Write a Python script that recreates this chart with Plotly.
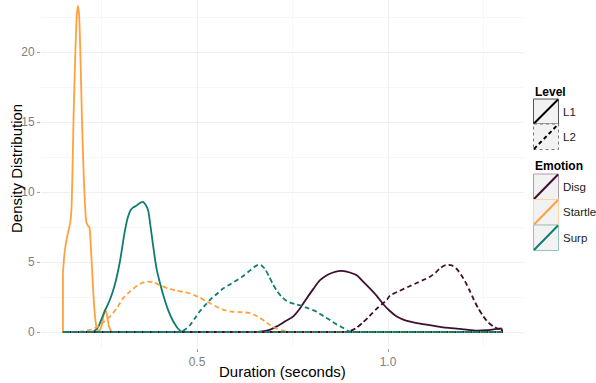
import plotly.graph_objects as go

# ---------------- data ----------------
emotions = ["Disg", "Startle", "Surp"]
levels = ["L1", "L2"]
colors = {"Disg": "#3E1030", "Startle": "#FFA23E", "Surp": "#0F7C71"}
key_borders = {"Disg": "#B49AAA", "Startle": "#FFD3A3", "Surp": "#93C6C0"}

disg_l1_x = [0.149, 0.640, 0.665, 0.690, 0.709, 0.730, 0.751, 0.770, 0.787, 0.805, 0.822, 0.840, 0.856,
             0.870, 0.885, 0.900, 0.918, 0.935, 0.953, 0.970, 0.987, 1.005, 1.023, 1.040, 1.058, 1.080,
             1.101, 1.125, 1.144, 1.165, 1.189, 1.210, 1.232, 1.258, 1.280, 1.298]
disg_l1_y = [0, 0, 0.03, 0.15, 0.4, 0.75, 1.1, 1.7, 2.4, 3.1, 3.7, 4.05, 4.25,
             4.35, 4.35, 4.25, 4.05, 3.6, 3.1, 2.6, 2.0, 1.5, 1.1, 0.88, 0.74, 0.62,
             0.52, 0.42, 0.33, 0.28, 0.22, 0.15, 0.1, 0.13, 0.2, 0.25]

disg_l2_x = [0.149, 0.880, 0.895, 0.915, 0.935, 0.952, 0.970, 0.985, 0.997, 1.005, 1.031, 1.055, 1.075,
             1.095, 1.110, 1.125, 1.136, 1.148, 1.158, 1.168, 1.180, 1.191, 1.202, 1.213, 1.223, 1.236,
             1.250, 1.262, 1.276, 1.287, 1.298]
disg_l2_y = [0, 0, 0.02, 0.25, 0.7, 1.15, 1.65, 2.0, 2.3, 2.6, 2.95, 3.25, 3.5,
             3.75, 3.95, 4.25, 4.55, 4.75, 4.8, 4.75, 4.5, 4.1, 3.6, 3.0, 2.4, 1.7,
             1.1, 0.7, 0.4, 0.25, 0.14]

startle_l1_x = [0.149, 0.152, 0.156, 0.160, 0.164, 0.168, 0.171, 0.174, 0.177, 0.181, 0.185, 0.188, 0.191,
                0.195, 0.199, 0.203, 0.207, 0.210, 0.214, 0.218, 0.221, 0.225, 0.229, 0.233, 0.237, 0.241,
                0.245, 0.249, 0.253, 0.256, 0.259, 0.262, 0.266, 0.270, 0.275, 0.280, 0.285, 1.298]
startle_l1_y = [4.2, 5.3, 6.2, 6.8, 7.3, 7.8, 8.6, 11.5, 15.5, 19.5, 22.5, 23.3, 22.8,
                19.5, 15.0, 11.5, 9.0, 7.9, 7.6, 7.5, 6.6, 4.6, 2.6, 1.1, 0.35, 0.1,
                0.12, 0.35, 0.8, 1.3, 1.6, 1.45, 0.9, 0.35, 0.08, 0.0, 0.0, 0.0]

startle_l2_x = [0.149, 0.180, 0.200, 0.220, 0.238, 0.255, 0.272, 0.290, 0.306, 0.325, 0.343, 0.356, 0.369,
                0.385, 0.403, 0.425, 0.447, 0.465, 0.482, 0.495, 0.508, 0.521, 0.534, 0.551, 0.568, 0.590,
                0.613, 0.639, 0.652, 0.665, 0.678, 0.691, 0.708, 0.725, 0.740, 0.752, 0.760, 1.298]
startle_l2_y = [0, 0.0, 0.05, 0.15, 0.35, 0.7, 1.1, 1.7, 2.4, 2.9, 3.3, 3.5, 3.6,
                3.55, 3.35, 3.1, 2.95, 2.85, 2.75, 2.6, 2.45, 2.25, 2.05, 1.8, 1.6, 1.45,
                1.42, 1.35, 1.2, 1.0, 0.75, 0.5, 0.25, 0.1, 0.03, 0.0, 0.0, 0.0]

surp_l1_x = [0.149, 0.220, 0.228, 0.235, 0.243, 0.251, 0.262, 0.272, 0.285, 0.298, 0.311, 0.319, 0.326,
             0.333, 0.340, 0.347, 0.353, 0.359, 0.365, 0.372, 0.378, 0.382, 0.389, 0.395, 0.404, 0.411,
             0.424, 0.437, 0.450, 0.461, 0.470, 1.298]
surp_l1_y = [0, 0, 0.02, 0.15, 0.45, 1.0, 1.7, 2.3, 3.4, 5.0, 7.2, 8.2, 8.7,
             8.9, 9.0, 9.15, 9.25, 9.3, 9.1, 8.7, 7.6, 6.8, 5.4, 4.4, 3.4, 2.7,
             1.6, 0.8, 0.25, 0.0, 0.0, 0.0]

surp_l2_x = [0.149, 0.450, 0.458, 0.470, 0.482, 0.495, 0.508, 0.521, 0.534, 0.551, 0.568, 0.586, 0.604,
             0.621, 0.639, 0.650, 0.660, 0.669, 0.678, 0.688, 0.699, 0.710, 0.722, 0.733, 0.744, 0.757,
             0.770, 0.790, 0.813, 0.830, 0.848, 0.865, 0.882, 0.895, 0.903, 0.910, 1.298]
surp_l2_y = [0, 0, 0.02, 0.2, 0.5, 1.0, 1.5, 1.9, 2.3, 2.7, 3.1, 3.4, 3.7,
             4.0, 4.4, 4.65, 4.8, 4.75, 4.5, 4.0, 3.4, 2.9, 2.5, 2.25, 2.1, 2.0,
             1.9, 1.7, 1.45, 1.15, 0.85, 0.55, 0.3, 0.08, 0.0, 0.0, 0.0]

series = {
    ("Disg", "L1"): (disg_l1_x, disg_l1_y),
    ("Startle", "L1"): (startle_l1_x, startle_l1_y),
    ("Surp", "L1"): (surp_l1_x, surp_l1_y),
    ("Disg", "L2"): (disg_l2_x, disg_l2_y),
    ("Startle", "L2"): (startle_l2_x, startle_l2_y),
    ("Surp", "L2"): (surp_l2_x, surp_l2_y),
}
draw_order = [("Disg", "L1"), ("Startle", "L1"), ("Surp", "L1"),
              ("Disg", "L2"), ("Startle", "L2"), ("Surp", "L2")]

y_ticks = [0, 5, 10, 15, 20]
x_ticks = [0.5, 1.0]
x_tick_labels = ["0.5", "1.0"]

# ---------------- layout geometry (pixels) ----------------
W, H = 596, 383
L, R, T, B = 41, 72, 0, 35
PW, PH = W - L - R, H - T - B
DASH = "5px,3px"
LW = 1.8

fig = go.Figure()
for key in draw_order:
    emo, lev = key
    xs, ys = series[key]
    dash = "solid" if lev == "L1" else DASH
    # density curve
    fig.add_trace(go.Scatter(x=xs, y=ys, mode="lines", showlegend=False, hoverinfo="skip",
                             line=dict(color=colors[emo], width=LW, dash=dash, shape="spline", smoothing=0.7)))
    # polygon closure: end edge, baseline, start edge
    fig.add_trace(go.Scatter(x=[xs[-1], xs[-1], xs[0], xs[0]], y=[ys[-1], 0, 0, ys[0]],
                             mode="lines", showlegend=False, hoverinfo="skip",
                             line=dict(color=colors[emo], width=LW, dash=dash)))

grid_major = "#F0F0F0"
grid_minor = "#F7F7F7"
tick_font = dict(family="Liberation Sans, Arial, sans-serif", size=12, color="#7F7F7F")

fig.update_xaxes(range=[0.0916, 1.356], tickvals=x_ticks, ticktext=x_tick_labels, automargin=False,
                 showgrid=True, gridcolor=grid_major, gridwidth=1, zeroline=False,
                 ticks="outside", ticklen=3, tickcolor="#A0A0A0", tickwidth=1,
                 tickfont=tick_font, showline=False,
                 minor=dict(tickvals=[0.25, 0.75, 1.25], showgrid=True, gridcolor=grid_minor, gridwidth=0.8, ticks=""))
fig.update_yaxes(range=[-1.143, 23.714], tickvals=y_ticks, automargin=False,
                 showgrid=True, gridcolor=grid_major, gridwidth=1, zeroline=False,
                 ticks="outside", ticklen=3, tickcolor="#A0A0A0", tickwidth=1,
                 tickfont=tick_font, showline=False,
                 minor=dict(tickvals=[2.5, 7.5, 12.5, 17.5, 22.5], showgrid=True, gridcolor=grid_minor,
                            gridwidth=0.8, ticks=""))


def px(xp):
    return (xp - L) / PW


def py(yp):
    return (H - B - yp) / PH


font_family = "Liberation Sans, Arial, sans-serif"
annotations = [
    dict(text="Duration (seconds)", x=px(282.5), y=py(372), xref="paper", yref="paper",
         showarrow=False, xanchor="center", yanchor="middle",
         font=dict(family=font_family, size=15, color="#000000")),
    dict(text="Density Distribution", x=px(16), y=py(169), xref="paper", yref="paper",
         showarrow=False, xanchor="center", yanchor="middle", textangle=-90,
         font=dict(family=font_family, size=15, color="#000000")),
]
shapes = []

# ---------------- manual ggplot-style legend ----------------
bx0, bx1 = 533.5, 558.5
label_font = dict(family=font_family, size=11.5, color="#1A1A1A")
title_font = dict(family=font_family, size=12, color="#000000")

def add_key(y0, y1, border, border_dash, line_color, line_dash, label):
    shapes.append(dict(type="rect", xref="paper", yref="paper", x0=px(bx0), x1=px(bx1), y0=py(y1), y1=py(y0),
                       fillcolor="#F2F2F2", line=dict(color=border, width=1, dash=border_dash), layer="above"))
    shapes.append(dict(type="line", xref="paper", yref="paper", x0=px(bx0 + 0.5), y0=py(y1 - 0.5),
                       x1=px(bx1 - 0.5), y1=py(y0 + 0.5),
                       line=dict(color=line_color, width=2, dash=line_dash), layer="above"))
    annotations.append(dict(text=label, x=px(bx1 + 2), y=py((y0 + y1) / 2), xref="paper", yref="paper",
                            showarrow=False, xanchor="left", yanchor="middle", font=label_font))

annotations.append(dict(text="<b>Level</b>", x=px(533), y=py(92), xref="paper", yref="paper",
                        showarrow=False, xanchor="left", yanchor="middle", font=title_font))
level_rows = [(99, 124), (124, 149.5)]
for lev, (y0, y1) in zip(levels, level_rows):
    if lev == "L1":
        add_key(y0, y1, "#555555", "solid", "#000000", "solid", lev)
    else:
        add_key(y0, y1, "#777777", "dot", "#000000", "4px,3px", lev)

annotations.append(dict(text="<b>Emotion</b>", x=px(533), y=py(166), xref="paper", yref="paper",
                        showarrow=False, xanchor="left", yanchor="middle", font=title_font))
emo_rows = [(174, 199.5), (199.5, 225), (225, 250.5)]
for emo, (y0, y1) in zip(emotions, emo_rows):
    add_key(y0, y1, key_borders[emo], "solid", colors[emo], "solid", emo)

fig.update_layout(width=W, height=H, margin=dict(l=L, r=R, t=T, b=B),
                  paper_bgcolor="white", plot_bgcolor="white",
                  annotations=annotations, shapes=shapes, showlegend=False,
                  font=dict(family=font_family))

fig.write_html("out.html", config={"displayModeBar": False},
               post_script="document.body.style.margin='0';document.body.style.overflow='hidden';")
